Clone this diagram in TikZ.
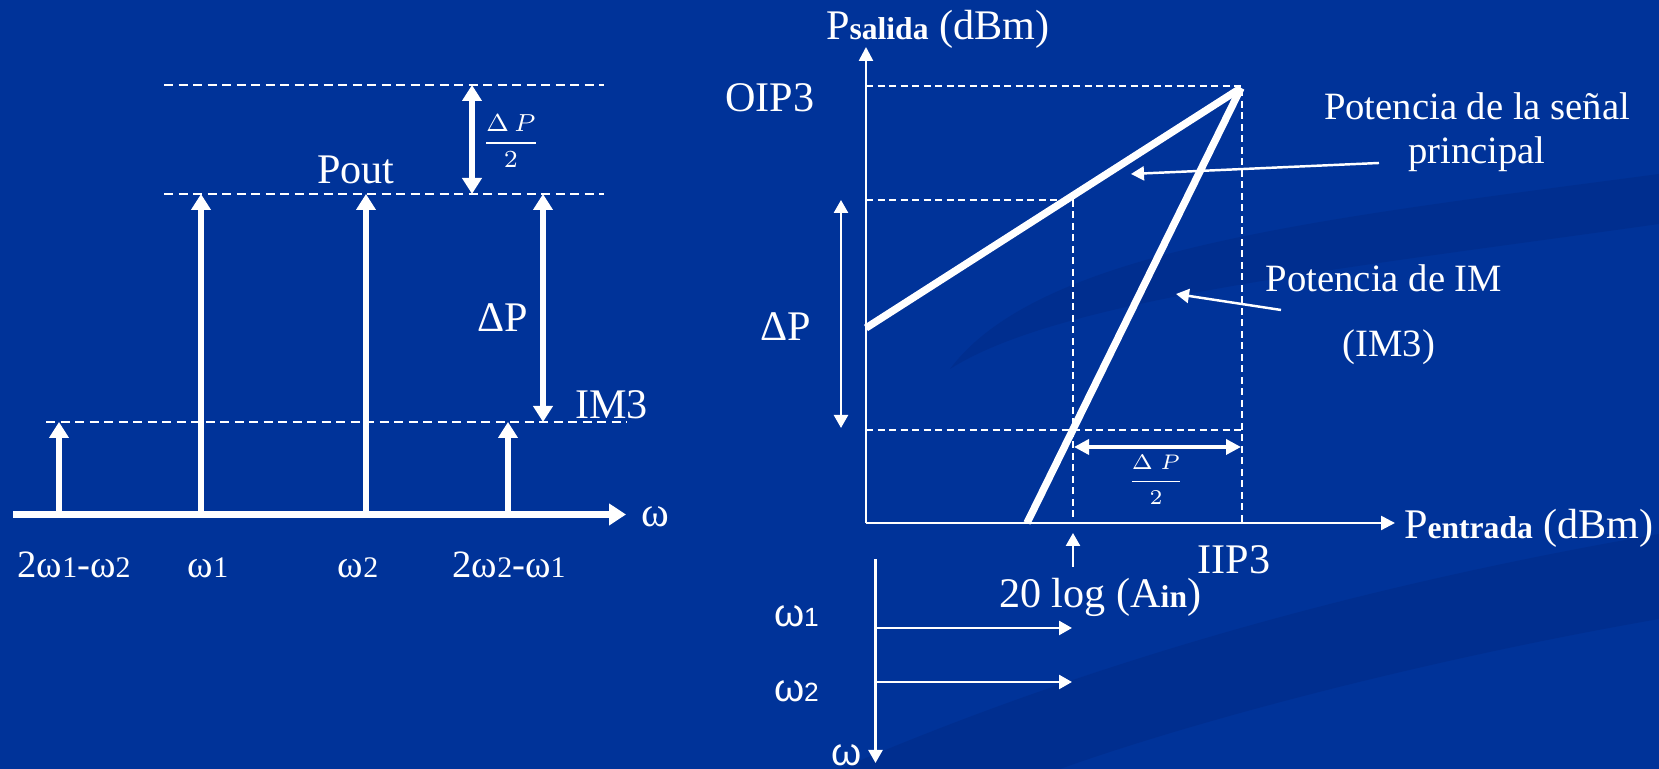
\documentclass[tikz,border=0pt]{standalone}
\usepackage{fontspec}
\setmainfont{Liberation Serif}
\newfontfamily\omegasans{Liberation Sans}
\usetikzlibrary{arrows.meta}
\definecolor{slideblue}{RGB}{0,51,153}
\definecolor{swooshblue}{RGB}{0,38,125}
\newcommand{\wsub}[1]{{\fontsize{8.5}{10}\selectfont#1}}
\newcommand{\boldsub}[1]{{\fontsize{9}{10}\selectfont\bfseries#1}}

\begin{document}
\begin{tikzpicture}[x=1cm,y=1cm,line width=0.6pt,
  every node/.style={text=white,font=\fontsize{12}{14}\selectfont},
  guide/.style={white,line width=0.55pt,dash pattern=on 0.9mm off 0.55mm},
  spike/.style={white,line width=1.5pt,-{Triangle[length=1.6mm,width=1.9mm]}},
  span/.style={white,line width=1.5pt,{Triangle[length=1.6mm,width=1.9mm]}-{Triangle[length=1.6mm,width=1.9mm]}},
  pointer/.style={white,line width=0.7pt,-{Triangle[length=1.3mm,width=1.4mm]}},
  trace/.style={white,line width=2.1pt},
  note/.style={font=\fontsize{11}{12.5}\selectfont,align=center}]
  \fill[slideblue] (0,0) rectangle (16.59,7.69);
  \useasboundingbox (0,0) rectangle (16.59,7.69);
  \fill[swooshblue,opacity=0.35] (9.5,4.0) .. controls (10.4,5.2) and (13.2,5.5) .. (16.59,5.95)
       -- (16.59,5.45) .. controls (13.4,5.0) and (10.6,4.7) .. (9.5,4.0) -- cycle;
  \fill[swooshblue,opacity=0.35] (8.4,0) .. controls (11.2,1.2) and (14.0,1.9) .. (16.59,2.35)
       -- (16.59,1.5) .. controls (14.3,1.1) and (12.0,0.5) .. (10.6,0) -- cycle;

  % espectro de salida
  \coordinate (axL) at (0.13,2.545);
  \coordinate (axR) at (6.26,2.545);
  \draw[white,line width=1.8pt,-{Triangle[length=1.7mm,width=2.1mm]}] (axL) -- (axR);
  \node (wax) at (6.55,2.52) {ω};
  \draw[guide] (1.64,6.84) -- (6.04,6.84);
  \draw[guide] (1.64,5.75) -- (6.04,5.75);
  \draw[guide] (0.46,3.47) -- (6.27,3.47);
  \foreach \x/\y/\n in {0.59/3.47/a,2.01/5.75/b,3.66/5.75/c,5.08/3.47/d}{
    \coordinate (f\n) at (\x,2.545);
    \coordinate (t\n) at (\x,\y);
    \draw[spike] (f\n) -- (t\n);}
  \draw[span] (4.72,6.84) -- (4.72,5.75);
  \draw[span] (5.43,5.75) -- (5.43,3.47);
  \node[anchor=base] (pout) at (3.56,5.85) {Pout};
  \node (dpl) at (5.03,4.51) {ΔP};
  \node[anchor=base west,inner sep=0pt] (iml) at (5.74,3.50) {IM3};
  \node (halfl) at (5.11,6.28) {\fontsize{7}{8}\selectfont$\displaystyle\frac{\Delta\,P}{2}$};
  \node[anchor=base,font=\fontsize{11}{13}\selectfont] (la) at (0.74,1.91) {2ω\wsub{1}-ω\wsub{2}};
  \node[anchor=base,font=\fontsize{11}{13}\selectfont] (lb) at (2.08,1.91) {ω\wsub{1}};
  \node[anchor=base,font=\fontsize{11}{13}\selectfont] (lc) at (3.58,1.91) {ω\wsub{2}};
  \node[anchor=base,font=\fontsize{11}{13}\selectfont] (ld) at (5.09,1.91) {2ω\wsub{2}-ω\wsub{1}};

  % curvas de potencia
  \coordinate (o) at (8.66,2.46);
  \coordinate (pk) at (12.41,6.81);
  \coordinate (m0) at (8.66,4.41);
  \coordinate (i0) at (10.27,2.46);
  \draw[white,line width=0.7pt,-{Triangle[length=1.4mm,width=1.4mm]}] (o) -- (8.66,7.22);
  \draw[white,line width=0.7pt,-{Triangle[length=1.4mm,width=1.4mm]}] (o) -- (13.95,2.46);
  \node[anchor=base west,inner sep=0pt] (ysal) at (8.25,7.29) {P\boldsub{salida} (dBm)};
  \node[anchor=base west,inner sep=0pt] (xent) at (14.03,2.30) {P\boldsub{entrada} (dBm)};
  \node[anchor=base] (oip) at (7.70,6.57) {OIP3};
  \draw[guide,dash pattern=on 0.7mm off 0.45mm] (8.66,6.83) -- (12.42,6.83) -- (12.42,2.46);
  \draw[guide,dash pattern=on 0.7mm off 0.45mm] (8.66,5.69) -- (10.73,5.69) -- (10.73,2.46);
  \draw[guide,dash pattern=on 0.7mm off 0.45mm] (8.66,3.39) -- (12.42,3.39);
  \draw[trace] (m0) -- (pk);
  \draw[trace] (i0) -- (pk);
  \draw[white,line width=0.7pt,{Triangle[length=1.3mm,width=1.4mm]}-{Triangle[length=1.3mm,width=1.4mm]}]
       (8.41,5.69) -- (8.41,3.41);
  \node (dpr) at (7.86,4.42) {ΔP};
  \draw[white,line width=1pt,{Triangle[length=1.5mm,width=1.5mm]}-{Triangle[length=1.5mm,width=1.5mm]}]
       (10.74,3.22) -- (12.41,3.22);
  \node (halfr) at (11.56,2.89) {\fontsize{6}{7}\selectfont$\displaystyle\frac{\Delta\;P}{2}$};
  \node[note] (sig) at (14.77,6.37) {Potencia de la señal\\principal};
  \coordinate (sigtail) at (13.79,6.06);
  \coordinate (sigtip) at (11.31,5.95);
  \draw[pointer] (sigtail) -- (sigtip);
  \node[note,anchor=base] (imt) at (13.84,4.77) {Potencia de IM};
  \node[note,anchor=base] (imb) at (13.89,4.12) {(IM3)};
  \coordinate (imtail) at (12.81,4.59);
  \coordinate (imtip) at (11.76,4.75);
  \draw[pointer] (imtail) -- (imtip);
  \draw[pointer] (10.73,2.02) -- (10.73,2.36);
  \node[anchor=base] (iip) at (12.34,1.95) {IIP3};
  \node[anchor=base west,inner sep=0pt] (ain) at (9.98,1.61) {20 log (A\boldsub{in})};

  % tonos de entrada
  \coordinate (wt) at (8.755,2.10);
  \coordinate (wb) at (8.755,0.06);
  \draw[pointer] (wt) -- (wb);
  \draw[pointer] (8.755,1.41) -- (10.72,1.41);
  \draw[pointer] (8.755,0.87) -- (10.72,0.87);
  \node[anchor=base west,inner sep=0pt,font=\fontsize{11}{13}\omegasans] (w1) at (7.73,1.42) {ω{\fontsize{7.5}{9}\selectfont 1}};
  \node[anchor=base west,inner sep=0pt,font=\fontsize{11}{13}\omegasans] (w2) at (7.73,0.67) {ω{\fontsize{7.5}{9}\selectfont 2}};
  \node[anchor=base,inner sep=0pt,font=\fontsize{11}{13}\omegasans] (wz) at (8.47,0.03) {ω};
\end{tikzpicture}
\end{document}
